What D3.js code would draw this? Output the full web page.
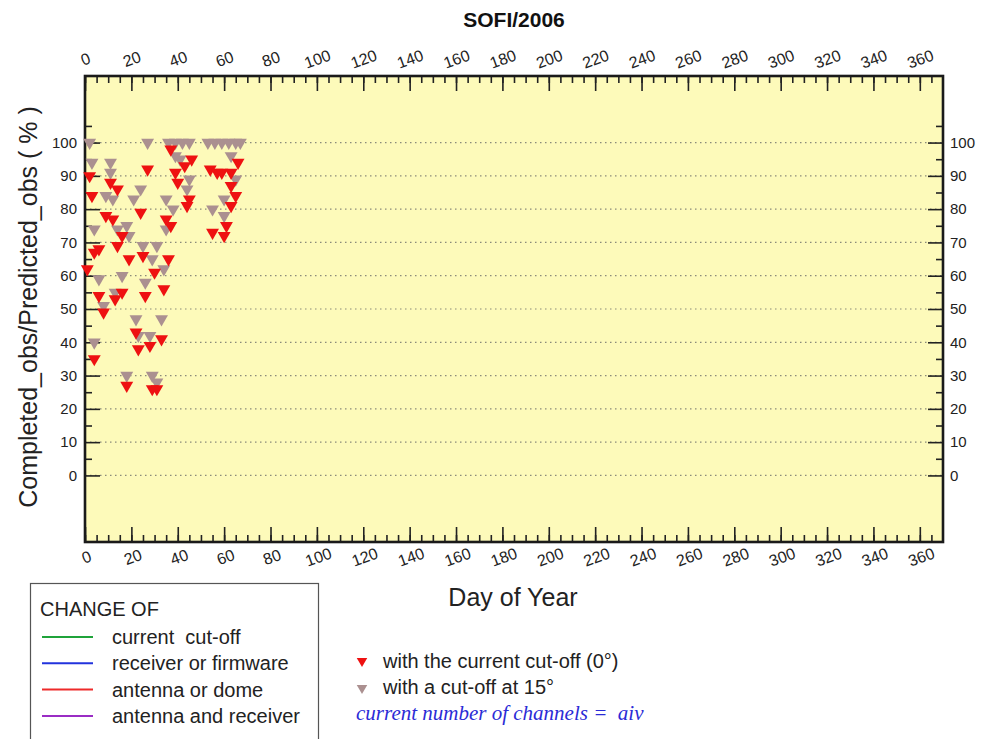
<!DOCTYPE html>
<html>
<head>
<meta charset="utf-8">
<script src="https://cdn.jsdelivr.net/npm/d3@7"></script>
<style>
  html, body { margin: 0; padding: 0; background: #fff; }
  svg { display: block; font-family: "Liberation Sans", Arial, sans-serif; }
</style>
</head>
<body>
<svg id="chart" width="982" height="739"></svg>
<script>
// Daily completion ratio (%) of SOFI in 2006, day of year vs percentage.
const cutoff0Days = [1, 2, 3, 4, 4, 6, 6, 8, 9, 11, 12, 13, 14, 14, 16, 16, 18, 19, 22, 23,
  24, 25, 26, 27, 28, 29, 30, 31, 33, 34, 36, 35, 37, 37, 39, 40, 43, 46, 44, 45,
  54, 57, 59, 63, 66, 63, 65, 63, 61, 55, 60];
const cutoff0Pct = [62, 90, 84, 35, 67, 68, 54, 49, 78, 88, 77, 53, 86, 69, 55, 72, 27, 65, 43, 38,
  79, 66, 54, 92, 39, 26, 61, 26, 41, 56, 65, 77, 75, 98, 91, 88, 93, 95, 81, 83,
  92, 91, 91, 91, 94, 87, 84, 81, 75, 73, 72];

const cutoff15Days = [2, 3, 11, 11, 24, 9, 12, 21, 4, 14, 18, 19, 31, 29, 6, 16, 34, 26, 13, 8,
  22, 33, 23, 28, 4, 18, 29, 31, 27, 36, 39, 42, 45, 53, 56, 59, 62, 65, 67,
  39, 41, 63, 65, 45, 44, 60, 35, 38, 55, 60, 35, 25];
const cutoff15Pct = [100, 94, 94, 91, 86, 84, 83, 83, 74, 74, 75, 72, 69, 65, 59, 60, 62, 58, 55, 51,
  47, 47, 42, 42, 40, 30, 30, 28, 100, 100, 100, 100, 100, 100, 100, 100, 100, 100, 100,
  96, 95, 96, 89, 89, 86, 83, 83, 80, 80, 78, 74, 69];

const xMajorTicks = d3.range(0, 361, 20);
const xMinorTicks = d3.range(0, 366, 5);
const yMajorTicks = d3.range(0, 101, 10);
const yMinorTicks = d3.range(5, 106, 10);

const changeLabels = ["current  cut-off", "receiver or firmware", "antenna or dome", "antenna and receiver"];
const changeColors = ["#1fa33a", "#2233dd", "#ee2a2a", "#9a2cc4"];

const svg = d3.select("#chart");
const plotLeft = 85, plotRight = 943, plotTop = 76, plotBottom = 542;

const x = d3.scaleLinear().domain([0, 370]).range([plotLeft, plotRight]);
const y = d3.scaleLinear().domain([-20, 120]).range([plotBottom, plotTop]);

// Title
svg.append("text").attr("x", 514).attr("y", 27).attr("text-anchor", "middle")
  .attr("font-size", 21).attr("font-weight", "bold").attr("fill", "#111").text("SOFI/2006");

// Plot background
svg.append("rect").attr("x", plotLeft).attr("y", plotTop)
  .attr("width", plotRight - plotLeft).attr("height", plotBottom - plotTop)
  .attr("fill", "#fdfaba");

// Dotted horizontal grid
svg.append("g").selectAll("line").data(yMajorTicks).join("line")
  .attr("x1", plotLeft).attr("x2", plotRight).attr("y1", d => y(d)).attr("y2", d => y(d))
  .attr("stroke", "#8a8a7a").attr("stroke-width", 1.2).attr("stroke-dasharray", "1.5,3.5");

// Axes: ticks point into the plot
function styleAxis(g) {
  g.select(".domain").remove();
  g.selectAll(".tick line").attr("stroke", "#222").attr("stroke-width", 1.6);
  g.selectAll("text").attr("fill", "#222").attr("font-size", 16);
}

const gBottomMinor = svg.append("g").attr("transform", `translate(0,${plotBottom})`)
  .call(d3.axisBottom(x).tickValues(xMinorTicks).tickSize(-7).tickFormat(""));
styleAxis(gBottomMinor);
const gBottom = svg.append("g").attr("transform", `translate(0,${plotBottom})`)
  .call(d3.axisBottom(x).tickValues(xMajorTicks).tickSize(-15).tickPadding(0));
styleAxis(gBottom);
gBottom.selectAll("text").attr("y", 0).attr("dy", "0.35em").attr("text-anchor", "middle")
  .attr("transform", "translate(1,15) rotate(-20)");

const gTopMinor = svg.append("g").attr("transform", `translate(0,${plotTop})`)
  .call(d3.axisTop(x).tickValues(xMinorTicks).tickSize(-7).tickFormat(""));
styleAxis(gTopMinor);
const gTop = svg.append("g").attr("transform", `translate(0,${plotTop})`)
  .call(d3.axisTop(x).tickValues(xMajorTicks).tickSize(-15).tickPadding(0));
styleAxis(gTop);
gTop.selectAll("text").attr("y", 0).attr("dy", "0.35em").attr("text-anchor", "middle")
  .attr("transform", "translate(0,-17) rotate(-20)");

const gLeftMinor = svg.append("g").attr("transform", `translate(${plotLeft},0)`)
  .call(d3.axisLeft(y).tickValues(yMinorTicks).tickSize(-7).tickFormat(""));
styleAxis(gLeftMinor);
const gLeft = svg.append("g").attr("transform", `translate(${plotLeft},0)`)
  .call(d3.axisLeft(y).tickValues(yMajorTicks).tickSize(-15).tickPadding(8));
styleAxis(gLeft);
gLeft.selectAll("text").attr("font-size", 15);

const gRightMinor = svg.append("g").attr("transform", `translate(${plotRight},0)`)
  .call(d3.axisRight(y).tickValues(yMinorTicks).tickSize(-7).tickFormat(""));
styleAxis(gRightMinor);
const gRight = svg.append("g").attr("transform", `translate(${plotRight},0)`)
  .call(d3.axisRight(y).tickValues(yMajorTicks).tickSize(-15).tickPadding(7));
styleAxis(gRight);
gRight.selectAll("text").attr("font-size", 15);

// Frame
svg.append("rect").attr("x", plotLeft).attr("y", plotTop)
  .attr("width", plotRight - plotLeft).attr("height", plotBottom - plotTop)
  .attr("fill", "none").attr("stroke", "#1a1a1a").attr("stroke-width", 2.6);

// Markers
const tri = d3.symbol().type(d3.symbolTriangle).size(72);
const cutoff15 = cutoff15Days.map((d, i) => ({ day: d, pct: cutoff15Pct[i] }));
const cutoff0 = cutoff0Days.map((d, i) => ({ day: d, pct: cutoff0Pct[i] }));

svg.append("g").selectAll("path").data(cutoff15).join("path")
  .attr("d", tri).attr("fill", "#ab9090")
  .attr("transform", d => `translate(${x(d.day)},${y(d.pct)}) rotate(180)`);
svg.append("g").selectAll("path").data(cutoff0).join("path")
  .attr("d", tri).attr("fill", "#ee1111")
  .attr("transform", d => `translate(${x(d.day)},${y(d.pct)}) rotate(180)`);

// Axis titles
svg.append("text").attr("x", 513).attr("y", 606).attr("text-anchor", "middle")
  .attr("font-size", 25).attr("fill", "#222").text("Day of Year");
svg.append("text").attr("transform", "translate(37,307) rotate(-90)").attr("text-anchor", "middle")
  .attr("font-size", 25).attr("fill", "#222").text("Completed_obs/Predicted_obs ( % )");

// Legend of change types
const leg = svg.append("g");
leg.append("rect").attr("x", 30.5).attr("y", 583.5).attr("width", 288).attr("height", 170)
  .attr("fill", "#fff").attr("stroke", "#555").attr("stroke-width", 1.2);
leg.append("text").attr("x", 40).attr("y", 616).attr("font-size", 20).attr("fill", "#222").text("CHANGE OF");
const items = leg.selectAll("g.item").data(changeLabels).join("g").attr("class", "item")
  .attr("transform", (d, i) => `translate(0,${637 + i * 26.3})`);
items.append("line").attr("x1", 42).attr("x2", 93).attr("y1", 0).attr("y2", 0)
  .attr("stroke", (d, i) => changeColors[i]).attr("stroke-width", 2);
items.append("text").attr("x", 112).attr("y", 7).attr("font-size", 20).attr("fill", "#222")
  .attr("xml:space", "preserve").text(d => d);

// Marker legend
const tLeg = d3.symbol().type(d3.symbolTriangle).size(48);
svg.append("path").attr("d", tLeg).attr("fill", "#ee1111").attr("transform", "translate(362,661) rotate(180)");
svg.append("text").attr("x", 383).attr("y", 668).attr("font-size", 20).attr("fill", "#222")
  .text("with the current cut-off (0°)");
svg.append("path").attr("d", tLeg).attr("fill", "#ab9090").attr("transform", "translate(362,688) rotate(180)");
svg.append("text").attr("x", 383).attr("y", 694).attr("font-size", 20).attr("fill", "#222")
  .text("with a cut-off at 15°");
svg.append("text").attr("x", 356).attr("y", 720).attr("font-size", 21).attr("font-style", "italic")
  .attr("font-family", "'Liberation Serif', 'Times New Roman', serif").attr("fill", "#2b2bd6")
  .attr("xml:space", "preserve").text("current number of channels =  aiv");
</script>
</body>
</html>
